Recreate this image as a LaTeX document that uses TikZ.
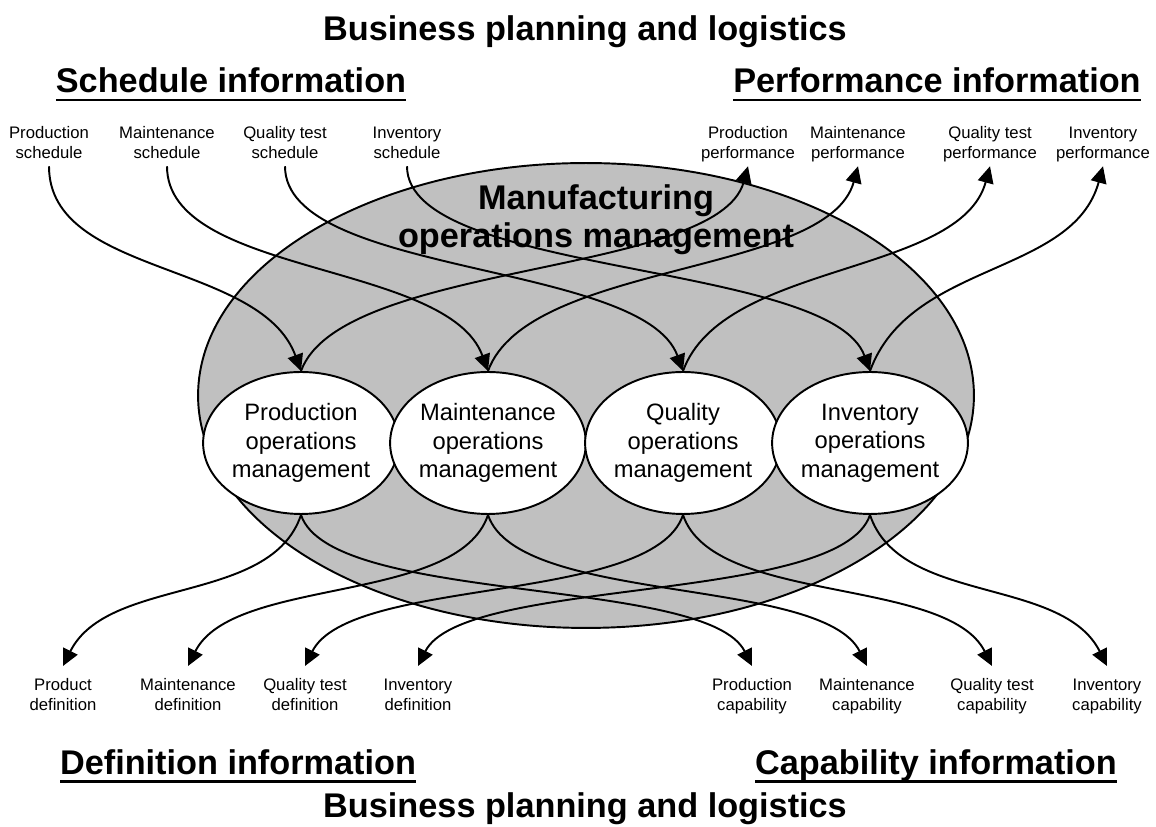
\documentclass[tikz,border=0pt]{standalone}
\usepackage{fontspec}
\setmainfont{Liberation Sans}
\usetikzlibrary{arrows.meta,shapes.geometric}

\newcommand{\ulText}[1]{\sbox0{#1}\rlap{\usebox0}\rule[-4.6pt]{\wd0}{1.3pt}}
\newcommand{\infoLines}[2]{\strut#1\\\strut#2}
\definecolor{momGray}{RGB}{192,192,192}

\tikzstyle{infoNode} = [align=center, inner xsep=2pt, inner ysep=1.1pt, font=\fontsize{9.5}{11.3}\selectfont]
\tikzstyle{headNode} = [inner sep=0pt, anchor=base, font=\fontsize{19.5}{22}\selectfont\bfseries]
\tikzstyle{opsNode} = [ellipse, minimum width=3.36cm, minimum height=2.84cm, inner sep=0pt, align=center, draw=black, line width=1.1pt, fill=white, font=\fontsize{13.5}{16.2}\selectfont]
\tikzstyle{momNode} = [ellipse, minimum width=15.52cm, minimum height=9.3cm, draw=black, line width=1.1pt, fill=momGray]
\tikzstyle{arrow} = [line width=1.1pt, -{Triangle[length=9.5pt,width=9pt]}]

\begin{document}
\begin{tikzpicture}[x=0.02cm, y=0.02cm]
    \useasboundingbox (0,0) rectangle (1156,827);

    % titles
    \node (bplTop)[headNode] at (585,786) {Business planning and logistics};
    \node (bplBottom)[headNode] at (585,9.5) {Business planning and logistics};
    \node (schedHead)[headNode] at (231,734) {\ulText{Schedule information}};
    \node (perfHead)[headNode] at (937,734) {\ulText{Performance information}};
    \node (defHead)[headNode] at (238,52.5) {\ulText{Definition information}};
    \node (capHead)[headNode] at (936,52.5) {\ulText{Capability information}};

    % manufacturing operations management
    \node (mom)[momNode] at (586,431.5) {};
    \node (momText)[align=center, font=\fontsize{19.5}{21.5}\selectfont\bfseries] at (596,607) {Manufacturing\\operations management};

    \node (prodOps)[opsNode] at (301,384) {Production\\operations\\management};
    \node (maintOps)[opsNode] at (488,384) {Maintenance\\operations\\management};
    \node (qualOps)[opsNode] at (683,384) {Quality\\operations\\management};
    \node (invOps)[opsNode] at (870,384) {Inventory\\operations\\management};

    % information nodes
    \node (prodSched)[infoNode, anchor=north] at (49,705) {\infoLines{Production}{schedule}};
    \node (maintSched)[infoNode, anchor=north] at (167,705) {\infoLines{Maintenance}{schedule}};
    \node (qualSched)[infoNode, anchor=north] at (285,705) {\infoLines{Quality test}{schedule}};
    \node (invSched)[infoNode, anchor=north] at (407,705) {\infoLines{Inventory}{schedule}};

    \node (prodPerf)[infoNode, anchor=north] at (748,705) {\infoLines{Production}{performance}};
    \node (maintPerf)[infoNode, anchor=north] at (858,705) {\infoLines{Maintenance}{performance}};
    \node (qualPerf)[infoNode, anchor=north] at (990,705) {\infoLines{Quality test}{performance}};
    \node (invPerf)[infoNode, anchor=north] at (1103,705) {\infoLines{Inventory}{performance}};

    \node (prodDef)[infoNode, inner ysep=5.7pt, anchor=north] at (63,161) {\infoLines{Product}{definition}};
    \node (maintDef)[infoNode, inner ysep=5.7pt, anchor=north] at (188,161) {\infoLines{Maintenance}{definition}};
    \node (qualDef)[infoNode, inner ysep=5.7pt, anchor=north] at (305,161) {\infoLines{Quality test}{definition}};
    \node (invDef)[infoNode, inner ysep=5.7pt, anchor=north] at (418,161) {\infoLines{Inventory}{definition}};

    \node (prodCap)[infoNode, inner ysep=5.7pt, anchor=north] at (752,161) {\infoLines{Production}{capability}};
    \node (maintCap)[infoNode, inner ysep=5.7pt, anchor=north] at (867,161) {\infoLines{Maintenance}{capability}};
    \node (qualCap)[infoNode, inner ysep=5.7pt, anchor=north] at (992,161) {\infoLines{Quality test}{capability}};
    \node (invCap)[infoNode, inner ysep=5.7pt, anchor=north] at (1107,161) {\infoLines{Inventory}{capability}};

    % schedule in
    \draw [arrow] (prodSched.south) .. controls +(0,-110) and +(-40,110) .. (prodOps.north);
    \draw [arrow] (maintSched.south) .. controls +(0,-110) and +(-40,110) .. (maintOps.north);
    \draw [arrow] (qualSched.south) .. controls +(0,-110) and +(-40,110) .. (qualOps.north);
    \draw [arrow] (invSched.south) .. controls +(0,-110) and +(-40,110) .. (invOps.north);

    % performance out
    \draw [arrow] (prodOps.north) .. controls +(40,110) and +(-30,-110) .. (prodPerf.south);
    \draw [arrow] (maintOps.north) .. controls +(40,110) and +(-30,-110) .. (maintPerf.south);
    \draw [arrow] (qualOps.north) .. controls +(40,110) and +(-30,-110) .. (qualPerf.south);
    \draw [arrow] (invOps.north) .. controls +(40,110) and +(-30,-110) .. (invPerf.south);

    % definition out
    \draw [arrow] (prodOps.south) .. controls +(-30,-90) and +(45,90) .. (prodDef.north);
    \draw [arrow] (maintOps.south) .. controls +(-30,-90) and +(45,90) .. (maintDef.north);
    \draw [arrow] (qualOps.south) .. controls +(-30,-90) and +(45,90) .. (qualDef.north);
    \draw [arrow] (invOps.south) .. controls +(-30,-90) and +(45,90) .. (invDef.north);

    % capability out
    \draw [arrow] (prodOps.south) .. controls +(30,-90) and +(-45,90) .. (prodCap.north);
    \draw [arrow] (maintOps.south) .. controls +(30,-90) and +(-45,90) .. (maintCap.north);
    \draw [arrow] (qualOps.south) .. controls +(30,-90) and +(-45,90) .. (qualCap.north);
    \draw [arrow] (invOps.south) .. controls +(30,-90) and +(-45,90) .. (invCap.north);

\end{tikzpicture}
\end{document}
